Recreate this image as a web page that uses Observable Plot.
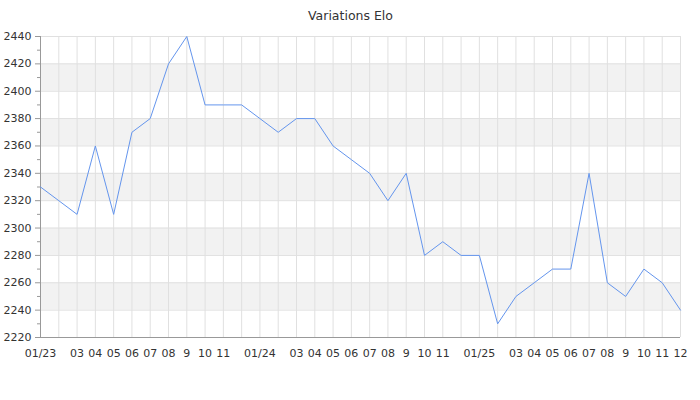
<!DOCTYPE html>
<html><head><meta charset="utf-8">
<script src="https://cdn.jsdelivr.net/npm/d3@7"></script>
<script src="https://cdn.jsdelivr.net/npm/@observablehq/plot@0.6"></script>
<style>body{margin:0;background:#fff;font-family:"DejaVu Sans",sans-serif}</style>
</head><body><div id="chart"></div>
<script>
const title = "Variations Elo";
const monthLabels = ["01/23","","03","04","05","06","07","08","9","10","11","",
                     "01/24","","03","04","05","06","07","08","9","10","11","",
                     "01/25","","03","04","05","06","07","08","9","10","11","12"];
const elo = [2330,2320,2310,2360,2310,2370,2380,2420,2440,2390,2390,2390,
             2380,2370,2380,2380,2360,2350,2340,2320,2340,2280,2290,2280,
             2280,2230,2250,2260,2270,2270,2340,2260,2250,2270,2260,2240];
const yTicks = [2220,2240,2260,2280,2300,2320,2340,2360,2380,2400,2420,2440];
const yMinorTicks = [2230,2250,2270,2290,2310,2330,2350,2370,2390,2410,2430];
const bandStarts = [2240,2280,2320,2360,2400];

const data = elo.map((v, i) => ({i, v}));
const idx = d3.range(monthLabels.length);
const bands = bandStarts.map(s => ({y1: s, y2: s + 20}));

const chart = Plot.plot({
  width: 700, height: 400,
  marginTop: 36, marginLeft: 40, marginRight: 20, marginBottom: 63,
  style: {fontFamily: "DejaVu Sans", fontSize: "11px", color: "#333", background: "#fff"},
  x: {type: "linear", domain: [0, idx.length - 1], axis: null},
  y: {domain: [2220, 2440], axis: null},
  marks: [
    Plot.rect(bands, {y1: "y1", y2: "y2", fill: "#f2f2f2"}),
    Plot.ruleX(idx, {stroke: "#e0e0e0"}),
    Plot.ruleY(yTicks, {stroke: "#e0e0e0"}),
    Plot.ruleX([0], {stroke: "#999"}),
    Plot.ruleY([2220], {stroke: "#999"}),
    Plot.axisY(yTicks, {tickSize: 5, tickPadding: 4, tickFormat: d => String(d), stroke: "#999", fill: "#333", label: null}),
    Plot.axisY(yMinorTicks, {tickSize: 3, tickFormat: () => "", stroke: "#999", label: null}),
    Plot.axisX(idx, {tickSize: 0, tickPadding: 12, tickFormat: i => monthLabels[i], fill: "#333", label: null}),
    Plot.line(data, {x: "i", y: "v", stroke: "#6495ed", strokeWidth: 1}),
    Plot.text([title], {frameAnchor: "top", dy: -25, dx: -10, fontSize: 12.5, fill: "#333"})
  ]
});
document.getElementById("chart").appendChild(chart);
</script>
</body></html>
